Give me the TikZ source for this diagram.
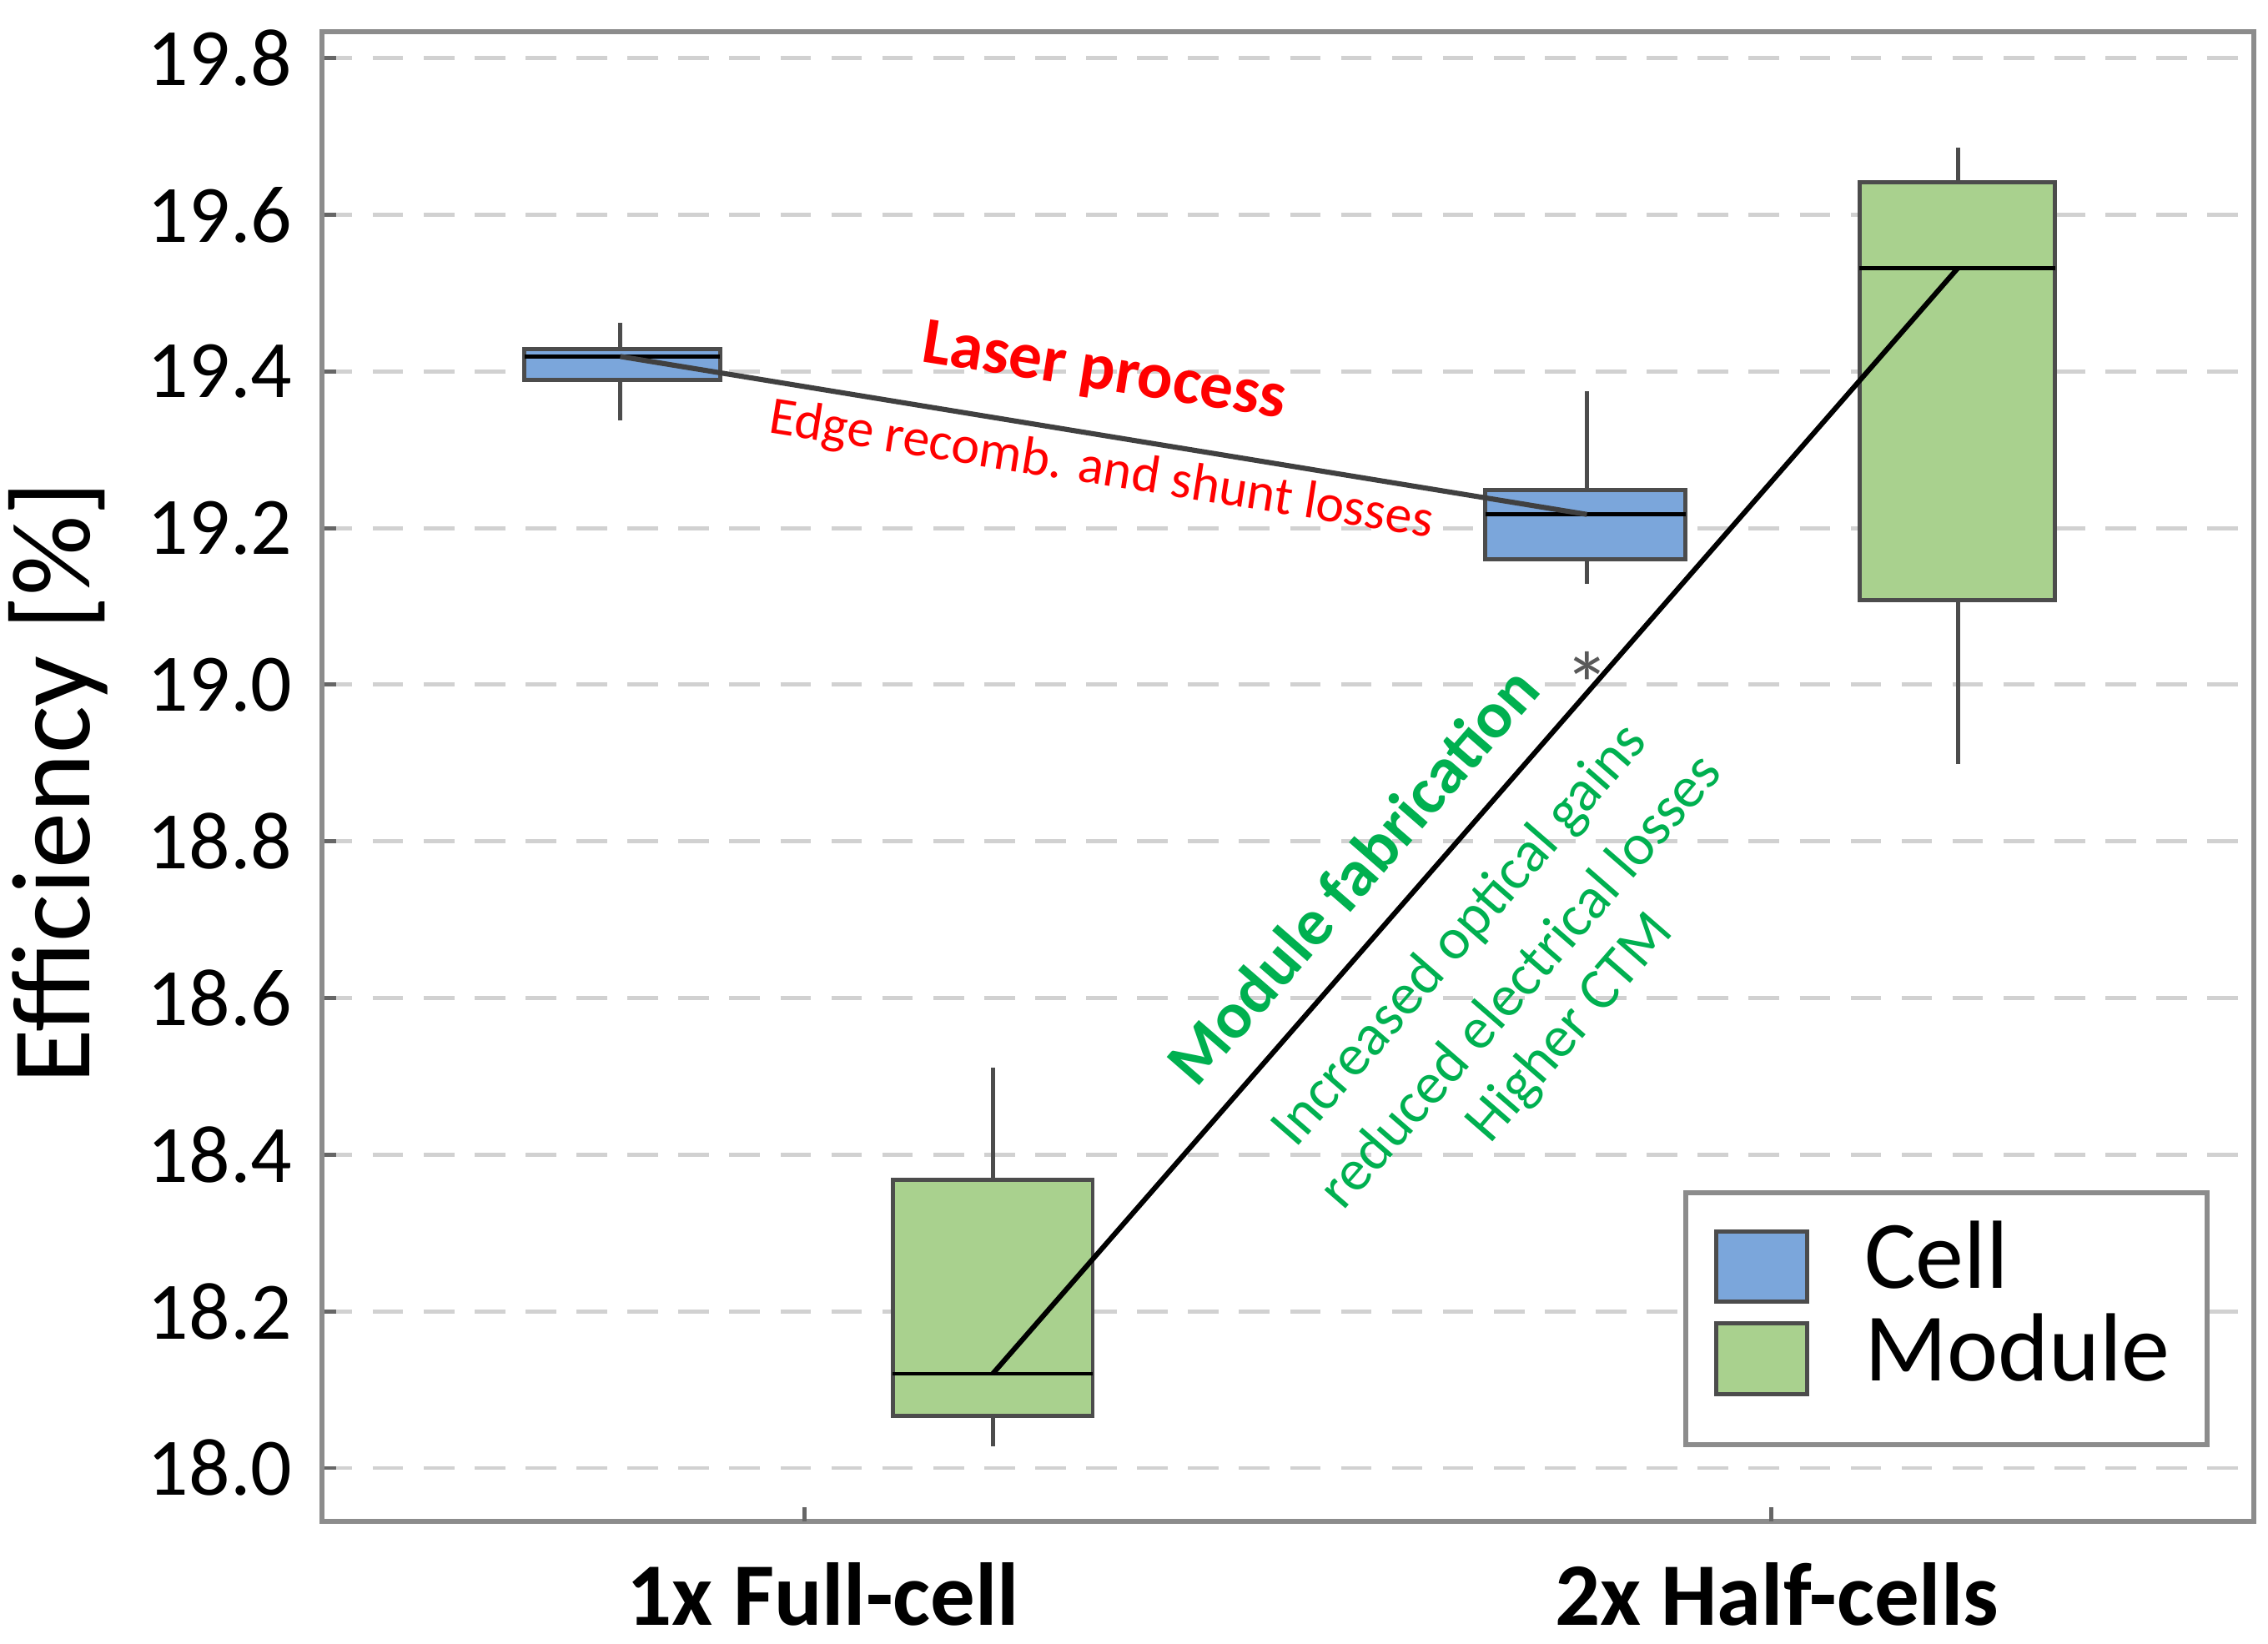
\documentclass[tikz,border=0pt]{standalone}
\usepackage{fontspec}
\setmainfont{Carlito}
\usetikzlibrary{positioning}
\definecolor{cellblue}{HTML}{7BA6DB}
\definecolor{modgreen}{HTML}{A9D18E}
\definecolor{laserred}{HTML}{FF0000}
\definecolor{fabgreen}{HTML}{00B050}
\tikzset{
  box/.style={draw=black!70, line width=0.8pt},
  whisk/.style={draw=black!70, line width=0.8pt},
  grid line/.style={draw=black!18, dashed, dash pattern=on 6pt off 4pt, line width=0.8pt},
  tick label/.style={anchor=east, font=\fontsize{16}{16}\selectfont},
  legend text/.style={anchor=west, font=\fontsize{19}{19}\selectfont}
}
\newcommand{\boxplot}[8]{% x1,x2,xm,wlo,q1,med,q3,whi ; fill via \bxfill
  \draw[whisk] (#3,#4) -- (#3,#5);
  \draw[whisk] (#3,#7) -- (#3,#8);
  \filldraw[box, fill=\bxfill] (#1,#5) rectangle (#2,#7);
  \draw[line width=0.8pt] (#1,#6) -- (#2,#6);
}
\begin{document}
\begin{tikzpicture}[x=0.01cm,y=-0.01cm]
\useasboundingbox (0,0) rectangle (1565,1134);
% grid and ticks
\foreach \v/\lab in {0/18.0,1/18.2,2/18.4,3/18.6,4/18.8,5/19.0,6/19.2,7/19.4,8/19.6,9/19.8}{
  \pgfmathsetmacro{\yy}{1013-108.1*\v}
  \draw[grid line] (222,\yy) -- (1555,\yy);
  \draw[black!60, line width=0.8pt] (222,\yy) -- (232,\yy);
  \node[tick label] at (214,\yy) {\lab};
}
\draw[black!45, line width=1pt] (222,22) rectangle (1555,1050);
\draw[black!60, line width=0.8pt] (555,1050) -- (555,1040);
\draw[black!60, line width=0.8pt] (1222,1050) -- (1222,1040);
\node[font=\bfseries\fontsize{17.5}{17.5}\selectfont] (xfull) at (568,1100) {1x Full-cell};
\node[font=\bfseries\fontsize{17.5}{17.5}\selectfont] (xhalf) at (1226,1100) {2x Half-cells};
\node[rotate=90, font=\fontsize{22}{22}\selectfont] (ylab) at (40,540) {Efficiency [\%]};
% boxes
\def\bxfill{cellblue}
\boxplot{362}{497}{428}{290}{262}{246}{241}{223}
\boxplot{1025}{1163}{1095}{403}{386}{355}{338}{270}
\def\bxfill{modgreen}
\boxplot{616}{754}{685}{998}{977}{948}{814}{737}
\boxplot{1283}{1418}{1351}{527}{414}{185}{126}{102}
\node[text=black!65, font=\fontsize{18}{18}\selectfont] (outl) at (1095,472) {*};
% trend lines
\coordinate (cfull) at (428,246);
\coordinate (chalf) at (1095,355);
\coordinate (mfull) at (685,948);
\coordinate (mhalf) at (1351,185);
\draw[black!75, line width=1pt] (cfull) -- (chalf);
\draw[black, line width=1pt] (mfull) -- (mhalf);
% annotations
\node[rotate=-9, text=laserred, font=\bfseries\fontsize{13}{13}\selectfont] (laser) at (762,258) {Laser process};
\node[rotate=-9, text=laserred, font=\fontsize{10.5}{10.5}\selectfont] (edge) at (760,325) {Edge recomb. and shunt losses};
\node[rotate=49, text=fabgreen, font=\bfseries\fontsize{13}{13}\selectfont] (fab) at (933,604) {Module fabrication};
\node[rotate=49, text=fabgreen, font=\fontsize{11.5}{11.5}\selectfont] (gain) at (1008,646) {Increased optical gains};
\node[rotate=49, text=fabgreen, font=\fontsize{11.5}{11.5}\selectfont] (elec) at (1048,676) {reduced electrical losses};
\node[rotate=49, text=fabgreen, font=\fontsize{11.5}{11.5}\selectfont] (ctm) at (1084,710) {Higher CTM};
% legend
\draw[black!45, line width=1pt, fill=white] (1163,823) rectangle (1523,997);
\filldraw[box, fill=cellblue] (1184,850) rectangle (1247,898);
\filldraw[box, fill=modgreen] (1184,913) rectangle (1247,962);
\node[legend text] (lcell) at (1274,866) {Cell};
\node[legend text] (lmod) at (1274,930) {Module};
\end{tikzpicture}
\end{document}
